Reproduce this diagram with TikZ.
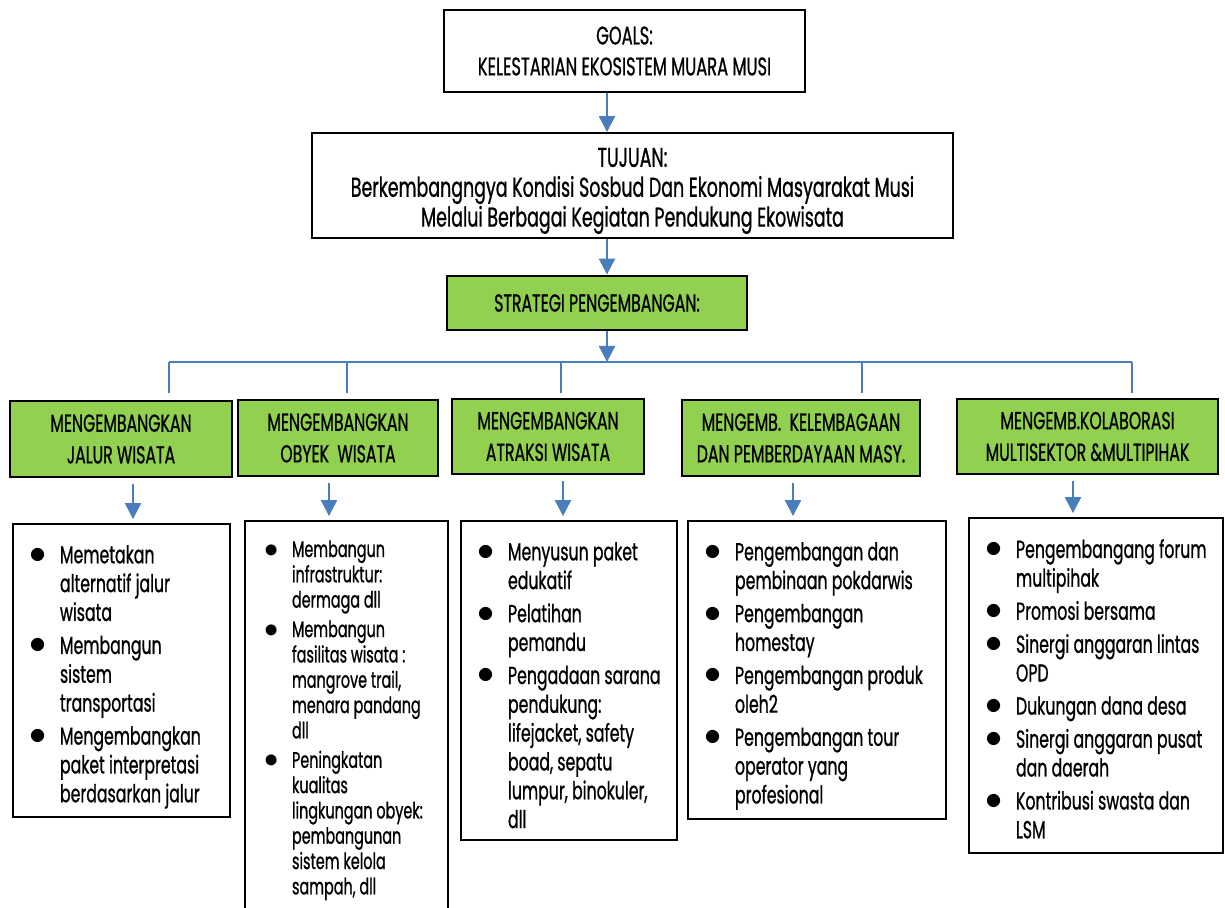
\documentclass[tikz,border=0pt]{standalone}
\usepackage{fontspec}
\setmainfont{Poppins}[FakeStretch=0.64,FakeBold=0.8]
\usetikzlibrary{arrows.meta,positioning}

\definecolor{hijau}{HTML}{92D050}
\definecolor{biru}{HTML}{4A7EBB}

\newcommand{\hurufkecil}{\fontsize{12.8}{14.4}\selectfont}
\newcommand{\hurufisi}{\fontsize{14}{16.4}\selectfont}
\newcommand{\hurufjudul}{\fontsize{14}{18}\selectfont}
\newcommand{\hurufatas}{\fontsize{15.5}{17}\selectfont}

% daftar berbutir di dalam kotak bawah
\newenvironment{butir}{\begin{list}{\scalebox{1.35}{$\bullet$}}{%
  \setlength{\leftmargin}{0.94cm}\setlength{\labelsep}{0.26cm}%
  \setlength{\labelwidth}{0.6cm}\setlength{\itemsep}{2.4pt}%
  \setlength{\parsep}{0pt}\setlength{\topsep}{0pt}\setlength{\partopsep}{0pt}}%
  \raggedright}{\end{list}}
% isi kotak: tinggi, lebar, jarak atas, teks
\newcommand{\isikotak}[4]{\begin{minipage}[t][#1][t]{#2}\vspace*{#3}#4\end{minipage}}

\begin{document}
\begin{tikzpicture}[x=0.02cm,y=-0.02cm]
  \tikzstyle{kotak} = [draw, line width=1.1pt, inner sep=0pt, align=center]
  \tikzstyle{kepala} = [draw, fill=hijau, line width=1.6pt, minimum height=1.52cm, align=center, font=\hurufjudul]
  \tikzstyle{garis} = [draw=biru, line width=1.3pt]
  \tikzstyle{panah} = [garis, -{Triangle[length=0.32cm,width=0.32cm]}]

  \useasboundingbox (0,0) rectangle (1225,908);
  \fill[white] (0,0) rectangle (1225,908);

  % tingkat atas
  \node[kotak, minimum width=7.22cm, minimum height=1.64cm, font=\fontsize{14.5}{17.6}\selectfont] (goals) at (624.5,51) {GOALS:\\KELESTARIAN EKOSISTEM MUARA MUSI};
  \node[kotak, minimum width=12.82cm, minimum height=2.1cm, font=\hurufatas] (tujuan) at (632.5,185.5) {\rule{0pt}{17pt}TUJUAN:\\Berkembangngya Kondisi Sosbud Dan Ekonomi Masyarakat Musi\\Melalui Berbagai Kegiatan Pendukung Ekowisata};
  \node[kepala, minimum width=6cm, minimum height=1.08cm] (strategi) at (597,303) {STRATEGI PENGEMBANGAN:};

  % kepala strategi
  \node[kepala, minimum width=4.44cm] (kepala1) at (121,439) {MENGEMBANGKAN\\JALUR WISATA};
  \node[kepala, minimum width=4.0cm] (kepala2) at (338,438) {MENGEMBANGKAN\\OBYEK\ \ WISATA};
  \node[kepala, minimum width=3.84cm, minimum height=1.5cm] (kepala3) at (548,436.5) {MENGEMBANGKAN\\ATRAKSI WISATA};
  \node[kepala, minimum width=4.76cm] (kepala4) at (801,438) {MENGEMB.\ \ KELEMBAGAAN\\DAN PEMBERDAYAAN MASY.};
  \node[kepala, minimum width=5.22cm, minimum height=1.5cm] (kepala5) at (1087.5,436.5) {MENGEMB.KOLABORASI\\MULTISEKTOR \&MULTIPIHAK};

  % isi kegiatan
  \node[kotak] (isi1) at (121.5,670.5) {\isikotak{5.86cm}{4.34cm}{12pt}{\hurufisi\begin{butir}
    \item Memetakan\\ alternatif jalur\\ wisata
    \item Membangun\\ sistem\\ transportasi
    \item Mengembangkan\\ paket interpretasi\\ berdasarkan jalur
  \end{butir}}};
  \node[kotak] (isi2) at (346.5,720.5) {\isikotak{7.98cm}{4.06cm}{11pt}{\hurufkecil\begin{butir}
    \item Membangun\\ infrastruktur:\\ dermaga dll
    \item Membangun\\ fasilitas wisata :\\ mangrove trail,\\ menara pandang\\ dll
    \item Peningkatan\\ kualitas\\ lingkungan obyek:\\ pembangunan\\ sistem kelola\\ sampah, dll
  \end{butir}}};
  \node[kotak] (isi3) at (569,680.5) {\isikotak{6.38cm}{4.32cm}{12pt}{\hurufisi\begin{butir}
    \item Menyusun paket\\ edukatif
    \item Pelatihan\\ pemandu
    \item Pengadaan sarana\\ pendukung:\\ lifejacket, safety\\ boad, sepatu\\ lumpur, binokuler,\\ dll
  \end{butir}}};
  \node[kotak] (isi4) at (817,670) {\isikotak{5.96cm}{5.16cm}{12pt}{\hurufisi\begin{butir}
    \item Pengembangan dan\\ pembinaan pokdarwis
    \item Pengembangan\\ homestay
    \item Pengembangan produk\\ oleh2
    \item Pengembangan tour\\ operator yang\\ profesional
  \end{butir}}};
  \node[kotak] (isi5) at (1096,685.5) {\isikotak{6.7cm}{5.08cm}{12pt}{\hurufisi\begin{butir}
    \item Pengembangang forum\\ multipihak
    \item Promosi bersama
    \item Sinergi anggaran lintas\\ OPD
    \item Dukungan dana desa
    \item Sinergi anggaran pusat\\ dan daerah
    \item Kontribusi swasta dan\\ LSM
  \end{butir}}};

  % penghubung
  \coordinate (tulang) at (607,0);
  \coordinate (bus) at (607,362);
  \coordinate (kiri) at (169,362);
  \coordinate (kanan) at (1132,362);
  \draw[panah] (goals.south -| tulang) -- (tujuan.north -| tulang);
  \draw[panah] (tujuan.south -| tulang) -- (strategi.north -| tulang);
  \draw[garis] (kiri) -- (kanan);
  \draw[panah] (strategi.south -| tulang) -- (bus);
  \foreach \x [count=\i] in {169,347,561,862,1132} {
    \coordinate (atas\i) at (\x,362);
    \coordinate (bawah\i) at (\x,393);
    \draw[garis] (atas\i) -- (bawah\i);
  }
  \foreach \x [count=\i] in {133,329,563,793,1073} {
    \coordinate (ax\i) at (\x,0);
    \draw[panah, shorten <=0.12cm, shorten >=0.08cm] (kepala\i.south -| ax\i) -- (isi\i.north -| ax\i);
  }
\end{tikzpicture}
\end{document}
